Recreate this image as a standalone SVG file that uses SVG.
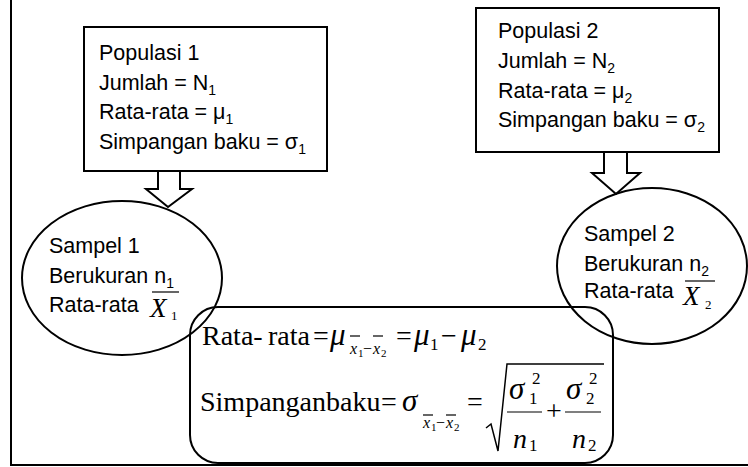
<svg xmlns="http://www.w3.org/2000/svg" width="748" height="467" viewBox="0 0 748 467">
<style>
.s{fill:none;stroke:#000;stroke-width:2}
.t{font-family:"Liberation Sans",Arial,sans-serif;font-size:21.5px;fill:#000}
.sb{font-size:14px}
.m{font-family:"Liberation Serif","Times New Roman",serif;font-size:28px;fill:#000}
.i{font-style:italic}
.g{font-size:31px}
.ms{font-size:16px}
.mss{font-size:11px}
.m2{font-size:17px}
.th{fill:none;stroke:#000;stroke-width:1.2}
</style>
<rect width="748" height="467" fill="#fff"/>
<g id="frame">
<line class="s" x1="11" y1="0" x2="11" y2="465"/>
<line class="s" x1="10" y1="465" x2="748" y2="465"/>
</g>
<g id="populasi1">
<rect class="s" x="84" y="27" width="243" height="144"/>
<text class="t" x="99" y="60">Populasi 1</text>
<text class="t" x="99" y="89.5">Jumlah = N<tspan class="sb" dy="5">1</tspan></text>
<text class="t" x="99" y="119">Rata-rata = μ<tspan class="sb" dy="5">1</tspan></text>
<text class="t" x="99" y="148.5">Simpangan baku = σ<tspan class="sb" dy="5">1</tspan></text>
</g>
<g id="populasi2">
<rect class="s" x="476" y="8" width="243" height="144"/>
<text class="t" x="498" y="38">Populasi 2</text>
<text class="t" x="498" y="68">Jumlah = N<tspan class="sb" dy="5">2</tspan></text>
<text class="t" x="498" y="97.5">Rata-rata = μ<tspan class="sb" dy="5">2</tspan></text>
<text class="t" x="498" y="127">Simpangan baku = σ<tspan class="sb" dy="5">2</tspan></text>
</g>
<g id="connectors">
<polygon class="s" points="158,171 180,171 180,189 192,189 168,207 146,189 158,189"/>
<polygon class="s" points="604,152 627,152 627,173 640,173 616,194 592,173 604,173"/>
</g>
<g id="sampel1">
<ellipse class="s" cx="122" cy="278" rx="100" ry="77"/>
<text class="t" x="49" y="253">Sampel 1</text>
<text class="t" x="49" y="283">Berukuran n<tspan class="sb" dy="5">1</tspan></text>
<text class="t" x="49" y="312">Rata-rata</text>
<line class="th" x1="152" y1="292" x2="179" y2="292"/>
<text class="m i" x="150" y="317" style="font-size:27px">X</text>
<text class="m" x="171" y="320" style="font-size:13px">1</text>
</g>
<g id="sampel2">
<ellipse class="s" cx="652" cy="266" rx="95" ry="78"/>
<text class="t" x="584" y="241">Sampel 2</text>
<text class="t" x="584" y="271">Berukuran n<tspan class="sb" dy="5">2</tspan></text>
<text class="t" x="584" y="298">Rata-rata</text>
<line class="th" x1="685" y1="281" x2="715" y2="281"/>
<text class="m i" x="683" y="305" style="font-size:27px">X</text>
<text class="m" x="705" y="309" style="font-size:13px">2</text>
</g>
<g id="rumus">
<rect class="s" x="190" y="307" width="423" height="156" rx="28" ry="28"/>
<text class="m" x="202" y="345">Rata-</text>
<text class="m" x="268" y="345">rata</text>
<text class="m" x="313" y="345">=</text>
<text class="m i g" x="330" y="345">μ</text>
<text class="m i ms" x="350" y="354">x</text>
<text class="m mss" x="358" y="357">1</text>
<text class="m ms" x="363" y="354">−</text>
<text class="m i ms" x="373" y="354">x</text>
<text class="m mss" x="381" y="357">2</text>
<line class="th" x1="350" y1="336" x2="360" y2="336"/>
<line class="th" x1="373" y1="336" x2="383" y2="336"/>
<text class="m" x="396" y="345">=</text>
<text class="m i g" x="414" y="345">μ</text>
<text class="m m2" x="430" y="350">1</text>
<text class="m" x="441" y="345">−</text>
<text class="m i g" x="461" y="345">μ</text>
<text class="m m2" x="478" y="350">2</text>

<text class="m" x="200" y="411">Simpanganbaku</text>
<text class="m" x="381" y="411">=</text>
<text class="m i g" x="402" y="411">σ</text>
<text class="m i ms" x="423" y="428">x</text>
<text class="m mss" x="431" y="431">1</text>
<text class="m ms" x="436" y="428">−</text>
<text class="m i ms" x="446" y="428">x</text>
<text class="m mss" x="454" y="431">2</text>
<line class="th" x1="423" y1="415" x2="433" y2="415"/>
<line class="th" x1="446" y1="415" x2="456" y2="415"/>
<text class="m" x="467" y="411">=</text>
<path class="th" d="M486,428 L491,424 L498,451 L507,364 L604,364" style="stroke-width:1.5"/>
<text class="m i g" x="509" y="399">σ</text>
<text class="m m2" x="529" y="404">1</text>
<text class="m m2" x="532" y="384">2</text>
<line class="th" x1="507" y1="412" x2="542" y2="412"/>
<text class="m i" x="513" y="448">n</text>
<text class="m m2" x="529" y="451">1</text>
<text class="m" x="546" y="420">+</text>
<text class="m i g" x="566" y="399">σ</text>
<text class="m m2" x="586" y="404">2</text>
<text class="m m2" x="589" y="384">2</text>
<line class="th" x1="565" y1="412" x2="601" y2="412"/>
<text class="m i" x="572" y="448">n</text>
<text class="m m2" x="588" y="451">2</text>
</g>
</svg>
